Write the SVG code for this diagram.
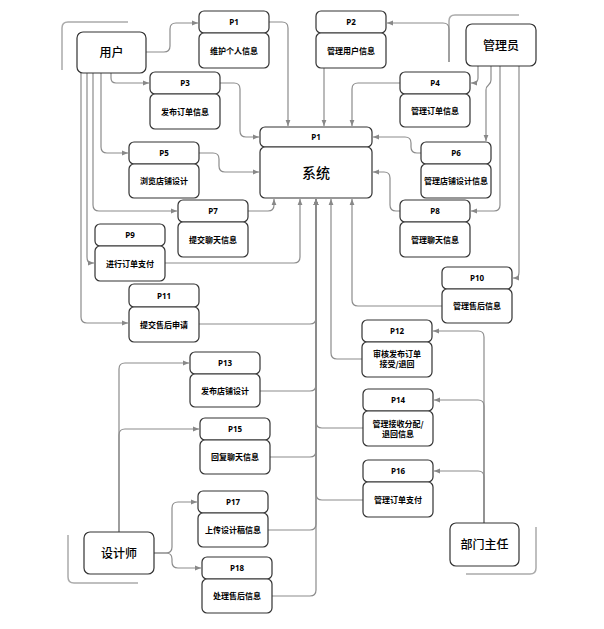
<svg xmlns="http://www.w3.org/2000/svg" width="604" height="629" viewBox="0 0 604 629">
<defs>
<marker id="arr" viewBox="0 0 10 10" refX="10" refY="5" markerWidth="6" markerHeight="6" markerUnits="userSpaceOnUse" orient="auto">
<path d="M0,1 L10,5 L0,9 z" fill="#888"/>
</marker>
<style>
.box{fill:#fff;stroke:#333;stroke-width:1.2}
.edge{fill:none;stroke:#8c8c8c;stroke-width:1.2;marker-end:url(#arr)}
.line{fill:none;stroke:#8c8c8c;stroke-width:1.2}
.deco{fill:none;stroke:#aaa;stroke-width:1.5}
.ph{font-family:"Noto Sans","Liberation Sans",sans-serif;font-size:8px;font-weight:700;text-anchor:middle;fill:#000}
.pb{font-family:"Noto Sans CJK SC",sans-serif;font-size:8px;font-weight:700;text-anchor:middle;fill:#000}
.actor{font-family:"Noto Sans CJK SC",sans-serif;font-size:12px;font-weight:500;text-anchor:middle;fill:#000}
.sys{font-family:"Noto Sans CJK SC",sans-serif;font-size:14px;font-weight:500;text-anchor:middle;fill:#000}
</style>
</defs>
<rect width="604" height="629" fill="#fff"/>

<g id="decorations">
<path class="deco" d="M128,22 H68 Q62,22 62,28 V70"/>
<path class="deco" d="M519,15 H455 Q449,15 449,21 V62"/>
<path class="deco" d="M68,535 V577 Q68,583 74,583 H138"/>
<path class="deco" d="M536,527 V568 Q536,574 530,574 H466"/>
</g>

<g id="connectors">
<!-- 用户 -->
<path class="edge" d="M146,52 H164 Q170,52 170,46 V29 Q170,23 176,23 H198"/>
<path class="edge" d="M111,73 V78 Q111,83 116,83 H149"/>
<path class="edge" d="M101,73 V147 Q101,153 107,153 H128"/>
<path class="edge" d="M93,73 V205 Q93,211 99,211 H177"/>
<path class="edge" d="M87,73 V257 Q87,263 91,263 H94"/>
<path class="edge" d="M81,73 V317 Q81,323 87,323 H128"/>
<!-- 管理员 -->
<path class="edge" d="M449,62 V29 Q449,23 443,23 H387"/>
<path class="edge" d="M478,66 V78 Q478,83 473,83 H471"/>
<path class="edge" d="M491,66 V80 C491,86 486,84 486,90 V141"/>
<path class="edge" d="M500,66 V205 Q500,211 494,211 H471"/>
<path class="edge" d="M519,66 V272 Q519,278 515,278 H513"/>
<!-- into system top -->
<path class="edge" d="M269,22 H282 Q288,22 288,28 V126"/>
<path class="edge" d="M324,68 V126"/>
<path class="edge" d="M400,83 H358 Q352,83 352,89 V126"/>
<!-- into system sides -->
<path class="edge" d="M220,83 H234 Q240,83 240,89 V131 Q240,137 246,137 H259"/>
<path class="edge" d="M199,153 H213 Q219,153 219,159 V166 Q219,172 225,172 H259"/>
<path class="edge" d="M421,153 H417 Q411,153 411,147 V143 Q411,137 405,137 H373"/>
<path class="edge" d="M400,211 H396 Q390,211 390,205 V178 Q390,172 384,172 H373"/>
<!-- into system bottom -->
<path class="edge" d="M248,211 H268 Q274,211 274,205 V199"/>
<path class="edge" d="M165,263 H294 Q300,263 300,257 V199"/>
<path class="edge" d="M199,324 H310 Q316,324 316,318 V199"/>
<path class="edge" d="M260,391 H310 Q316,391 316,385 V199"/>
<path class="edge" d="M270,457 H310 Q316,457 316,451 V199"/>
<path class="edge" d="M268,530 H310 Q316,530 316,524 V199"/>
<path class="edge" d="M272,596 H310 Q316,596 316,590 V199"/>
<path class="edge" d="M363,428 H322 Q316,428 316,422 V199"/>
<path class="edge" d="M363,500 H322 Q316,500 316,494 V199"/>
<path class="edge" d="M362,359 H337 Q331,359 331,353 V199"/>
<path class="edge" d="M442,306 H358 Q352,306 352,300 V199"/>
<!-- 部门主任 -->
<path class="edge" d="M484,523 V337 Q484,331 478,331 H433"/>
<path class="edge" d="M484,523 V406 Q484,400 478,400 H434"/>
<path class="edge" d="M484,523 V477 Q484,471 478,471 H434"/>
<!-- 设计师 -->
<path class="edge" d="M119,532 V369 Q119,363 125,363 H189"/>
<path class="edge" d="M119,532 V435 Q119,429 125,429 H199"/>
<path class="edge" d="M154,553 H166 Q172,553 172,547 V508 Q172,502 178,502 H197"/>
<path class="edge" d="M154,553 H166 Q172,553 172,559 V562 Q172,568 178,568 H201"/>
</g>

<g id="user">
<rect class="box" x="77" y="32" width="69" height="41" rx="6"/>
<text class="actor" x="111.5" y="57">用户</text>
</g>
<g id="admin">
<rect class="box" x="466" y="24" width="70" height="42" rx="6"/>
<text class="actor" x="501" y="49.5">管理员</text>
</g>
<g id="designer">
<rect class="box" x="84" y="532" width="70" height="42" rx="6"/>
<text class="actor" x="119" y="557.5">设计师</text>
</g>
<g id="director">
<rect class="box" x="450" y="523" width="69" height="43" rx="6"/>
<text class="actor" x="484.5" y="549">部门主任</text>
</g>

<g id="system">
<rect class="box" x="260" y="127" width="112" height="20" rx="5"/>
<rect class="box" x="260" y="147" width="112" height="51" rx="5"/>
<text class="ph" x="316" y="140">P1</text>
<text class="sys" x="316" y="178">系统</text>
</g>

<g id="p1">
<rect class="box" x="199" y="11" width="70" height="22" rx="5"/>
<rect class="box" x="199" y="33" width="70" height="35" rx="5"/>
<text class="ph" x="234" y="25">P1</text>
<text class="pb" x="234" y="53.5">维护个人信息</text>
</g>
<g id="p2">
<rect class="box" x="316" y="11" width="70" height="22" rx="5"/>
<rect class="box" x="316" y="33" width="70" height="35" rx="5"/>
<text class="ph" x="351" y="25">P2</text>
<text class="pb" x="351" y="53.5">管理用户信息</text>
</g>
<g id="p3">
<rect class="box" x="150" y="72" width="70" height="22" rx="5"/>
<rect class="box" x="150" y="94" width="70" height="35" rx="5"/>
<text class="ph" x="185" y="86">P3</text>
<text class="pb" x="185" y="114.5">发布订单信息</text>
</g>
<g id="p4">
<rect class="box" x="400" y="72" width="70" height="22" rx="5"/>
<rect class="box" x="400" y="94" width="70" height="33" rx="5"/>
<text class="ph" x="435" y="86">P4</text>
<text class="pb" x="435" y="113.5">管理订单信息</text>
</g>
<g id="p5">
<rect class="box" x="129" y="142" width="70" height="22" rx="5"/>
<rect class="box" x="129" y="164" width="70" height="34" rx="5"/>
<text class="ph" x="164" y="156">P5</text>
<text class="pb" x="164" y="184">浏览店铺设计</text>
</g>
<g id="p6">
<rect class="box" x="421" y="142" width="70" height="22" rx="5"/>
<rect class="box" x="421" y="164" width="70" height="34" rx="5"/>
<text class="ph" x="456" y="156">P6</text>
<text class="pb" x="456" y="184">管理店铺设计信息</text>
</g>
<g id="p7">
<rect class="box" x="178" y="200" width="70" height="22" rx="5"/>
<rect class="box" x="178" y="222" width="70" height="35" rx="5"/>
<text class="ph" x="213" y="214">P7</text>
<text class="pb" x="213" y="242.5">提交聊天信息</text>
</g>
<g id="p8">
<rect class="box" x="400" y="200" width="70" height="22" rx="5"/>
<rect class="box" x="400" y="222" width="70" height="35" rx="5"/>
<text class="ph" x="435" y="214">P8</text>
<text class="pb" x="435" y="242.5">管理聊天信息</text>
</g>
<g id="p9">
<rect class="box" x="95" y="224" width="70" height="22" rx="5"/>
<rect class="box" x="95" y="246" width="70" height="35" rx="5"/>
<text class="ph" x="130" y="238">P9</text>
<text class="pb" x="130" y="266.5">进行订单支付</text>
</g>
<g id="p10">
<rect class="box" x="442" y="267" width="70" height="22" rx="5"/>
<rect class="box" x="442" y="289" width="70" height="34" rx="5"/>
<text class="ph" x="477" y="281">P10</text>
<text class="pb" x="477" y="309">管理售后信息</text>
</g>
<g id="p11">
<rect class="box" x="129" y="284" width="70" height="23" rx="5"/>
<rect class="box" x="129" y="307" width="70" height="35" rx="5"/>
<text class="ph" x="164" y="298.5">P11</text>
<text class="pb" x="164" y="327.5">提交售后申请</text>
</g>
<g id="p12">
<rect class="box" x="362" y="320" width="70" height="22" rx="5"/>
<rect class="box" x="362" y="342" width="70" height="35" rx="5"/>
<text class="ph" x="397" y="334">P12</text>
<text class="pb" x="397" y="357">审核发布订单</text>
<text class="pb" x="397" y="367">接受/退回</text>
</g>
<g id="p13">
<rect class="box" x="190" y="352" width="70" height="22" rx="5"/>
<rect class="box" x="190" y="374" width="70" height="33" rx="5"/>
<text class="ph" x="225" y="366">P13</text>
<text class="pb" x="225" y="393.5">发布店铺设计</text>
</g>
<g id="p14">
<rect class="box" x="363" y="389" width="70" height="22" rx="5"/>
<rect class="box" x="363" y="411" width="70" height="35" rx="5"/>
<text class="ph" x="398" y="403">P14</text>
<text class="pb" x="398" y="427">管理接收分配/</text>
<text class="pb" x="398" y="437">退回信息</text>
</g>
<g id="p15">
<rect class="box" x="200" y="418" width="70" height="22" rx="5"/>
<rect class="box" x="200" y="440" width="70" height="34" rx="5"/>
<text class="ph" x="235" y="432">P15</text>
<text class="pb" x="235" y="460">回复聊天信息</text>
</g>
<g id="p16">
<rect class="box" x="363" y="460" width="70" height="22" rx="5"/>
<rect class="box" x="363" y="482" width="70" height="35" rx="5"/>
<text class="ph" x="398" y="474">P16</text>
<text class="pb" x="398" y="502.5">管理订单支付</text>
</g>
<g id="p17">
<rect class="box" x="198" y="491" width="70" height="22" rx="5"/>
<rect class="box" x="198" y="513" width="70" height="34" rx="5"/>
<text class="ph" x="233" y="505">P17</text>
<text class="pb" x="233" y="533">上传设计稿信息</text>
</g>
<g id="p18">
<rect class="box" x="202" y="557" width="70" height="22" rx="5"/>
<rect class="box" x="202" y="579" width="70" height="34" rx="5"/>
<text class="ph" x="237" y="571">P18</text>
<text class="pb" x="237" y="599">处理售后信息</text>
</g>
</svg>
